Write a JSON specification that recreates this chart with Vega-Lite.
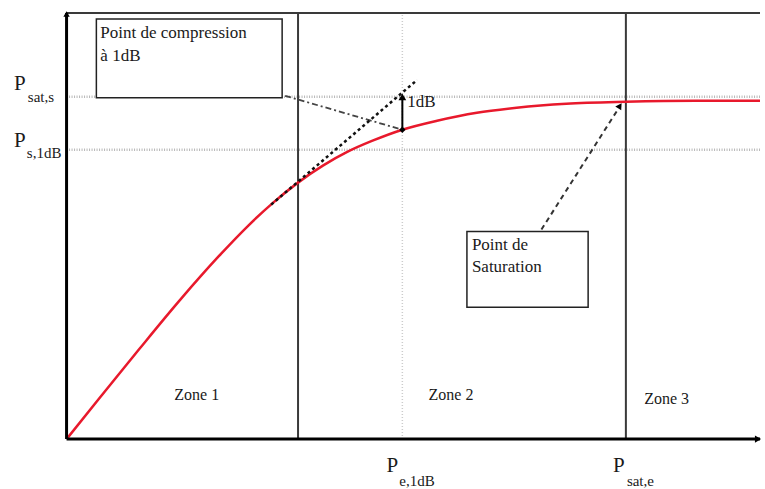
{
  "$schema": "https://vega.github.io/schema/vega-lite/v6.json",
  "width": 765,
  "height": 489,
  "padding": 0,
  "autosize": {"type": "fit", "contains": "padding"},
  "background": "white",
  "config": {"view": {"stroke": null}},
  "datasets": {
    "curve": [
      {"pin": 0, "pout": 0}, {"pin": 33, "pout": 41}, {"pin": 73, "pout": 90}, {"pin": 113, "pout": 138},
      {"pin": 153, "pout": 183}, {"pin": 183, "pout": 214}, {"pin": 208, "pout": 237}, {"pin": 233, "pout": 257},
      {"pin": 258, "pout": 274}, {"pin": 283, "pout": 288}, {"pin": 308, "pout": 299}, {"pin": 338, "pout": 310},
      {"pin": 373, "pout": 319}, {"pin": 413, "pout": 327}, {"pin": 453, "pout": 332}, {"pin": 503, "pout": 336},
      {"pin": 563, "pout": 338}, {"pin": 633, "pout": 339}, {"pin": 698, "pout": 339}
    ],
    "axes": [
      {"x": 0, "y": 0, "x2": 0, "y2": 427},
      {"x": 0, "y": 0, "x2": 698, "y2": 0}
    ],
    "frame": [
      {"x": 0, "y": 427, "x2": 698, "y2": 427},
      {"x": 233, "y": 0, "x2": 233, "y2": 427},
      {"x": 563, "y": 0, "x2": 563, "y2": 427}
    ],
    "grid": [
      {"x": 0, "y": 343, "x2": 698, "y2": 343},
      {"x": 0, "y": 290, "x2": 698, "y2": 290}
    ],
    "vgrid": [
      {"x": 338, "y": 0, "x2": 338, "y2": 427}
    ],
    "tangent": [
      {"x": 206, "y": 235, "x2": 353, "y2": 360}
    ],
    "leader": [
      {"x": 220, "y": 344, "x2": 338, "y2": 310}
    ],
    "satarrow": [
      {"x": 478, "y": 210, "x2": 556, "y2": 332}
    ],
    "dbarrow": [
      {"x": 338, "y": 310, "x2": 338, "y2": 342}
    ],
    "boxes": [
      {"x": 30, "y": 421, "x2": 217, "y2": 342},
      {"x": 403, "y": 208, "x2": 525, "y2": 132}
    ],
    "heads": [
      {"x": 338, "y": 343, "ang": 0, "sz": 60},
      {"x": 557, "y": 334, "ang": 33, "sz": 50},
      {"x": 0, "y": 426, "ang": 0, "sz": 40},
      {"x": 696, "y": 0, "ang": 90, "sz": 50}
    ],
    "dots": [
      {"x": 338, "y": 310}
    ],
    "boxtext": [
      {"x": 34, "y": 402, "t": "Point de compression"},
      {"x": 34, "y": 379, "t": "à 1dB"},
      {"x": 408, "y": 189, "t": "Point de"},
      {"x": 408, "y": 167, "t": "Saturation"},
      {"x": 343, "y": 333, "t": "1dB"}
    ],
    "zones": [
      {"x": 131, "y": 39, "t": "Zone 1"},
      {"x": 387, "y": 39, "t": "Zone 2"},
      {"x": 604, "y": 35, "t": "Zone 3"}
    ],
    "pmain": [
      {"x": -53, "y": 350, "t": "P"},
      {"x": -53, "y": 293, "t": "P"},
      {"x": 322, "y": -33, "t": "P"},
      {"x": 550, "y": -33, "t": "P"}
    ],
    "psub": [
      {"x": -39, "y": 338, "t": "sat,s"},
      {"x": -40, "y": 282, "t": "s,1dB"},
      {"x": 335, "y": -47, "t": "e,1dB"},
      {"x": 564, "y": -47, "t": "sat,e"}
    ]
  },
  "layer": [
    {
      "data": {"name": "grid"},
      "mark": {"type": "rule", "color": "#b8b8b8", "strokeWidth": 2.5, "strokeDash": [1, 1.5]},
      "encoding": {
        "x": {"field": "x", "type": "quantitative", "scale": {"domain": [-67, 698], "nice": false, "zero": false}, "axis": null},
        "y": {"field": "y", "type": "quantitative", "scale": {"domain": [-49, 440], "nice": false, "zero": false}, "axis": null},
        "x2": {"field": "x2"}, "y2": {"field": "y2"}
      }
    },
    {
      "data": {"name": "vgrid"},
      "mark": {"type": "rule", "color": "#cccccc", "strokeWidth": 1.5, "strokeDash": [1, 2]},
      "encoding": {
        "x": {"field": "x", "type": "quantitative"}, "y": {"field": "y", "type": "quantitative"},
        "x2": {"field": "x2"}, "y2": {"field": "y2"}
      }
    },
    {
      "data": {"name": "frame"},
      "mark": {"type": "rule", "color": "#3a3a3a", "strokeWidth": 2},
      "encoding": {
        "x": {"field": "x", "type": "quantitative"}, "y": {"field": "y", "type": "quantitative"},
        "x2": {"field": "x2"}, "y2": {"field": "y2"}
      }
    },
    {
      "data": {"name": "boxes"},
      "mark": {"type": "rect", "fill": "white", "stroke": "#222222", "strokeWidth": 1.5},
      "encoding": {
        "x": {"field": "x", "type": "quantitative"}, "y": {"field": "y", "type": "quantitative"},
        "x2": {"field": "x2"}, "y2": {"field": "y2"}
      }
    },
    {
      "data": {"name": "leader"},
      "mark": {"type": "rule", "color": "#444444", "strokeWidth": 1.8, "strokeDash": [6, 3, 2, 3]},
      "encoding": {
        "x": {"field": "x", "type": "quantitative"}, "y": {"field": "y", "type": "quantitative"},
        "x2": {"field": "x2"}, "y2": {"field": "y2"}
      }
    },
    {
      "data": {"name": "satarrow"},
      "mark": {"type": "rule", "color": "#333333", "strokeWidth": 2, "strokeDash": [5, 4]},
      "encoding": {
        "x": {"field": "x", "type": "quantitative"}, "y": {"field": "y", "type": "quantitative"},
        "x2": {"field": "x2"}, "y2": {"field": "y2"}
      }
    },
    {
      "data": {"name": "curve"},
      "mark": {"type": "line", "color": "#e8192c", "strokeWidth": 2.5, "interpolate": "monotone"},
      "encoding": {
        "x": {"field": "pin", "type": "quantitative"},
        "y": {"field": "pout", "type": "quantitative"}
      }
    },
    {
      "data": {"name": "tangent"},
      "mark": {"type": "rule", "color": "#111111", "strokeWidth": 2.5, "strokeDash": [3, 3]},
      "encoding": {
        "x": {"field": "x", "type": "quantitative"}, "y": {"field": "y", "type": "quantitative"},
        "x2": {"field": "x2"}, "y2": {"field": "y2"}
      }
    },
    {
      "data": {"name": "dbarrow"},
      "mark": {"type": "rule", "color": "#000000", "strokeWidth": 2},
      "encoding": {
        "x": {"field": "x", "type": "quantitative"}, "y": {"field": "y", "type": "quantitative"},
        "x2": {"field": "x2"}, "y2": {"field": "y2"}
      }
    },
    {
      "data": {"name": "axes"},
      "mark": {"type": "rule", "color": "#000000", "strokeWidth": 3},
      "encoding": {
        "x": {"field": "x", "type": "quantitative"}, "y": {"field": "y", "type": "quantitative"},
        "x2": {"field": "x2"}, "y2": {"field": "y2"}
      }
    },
    {
      "data": {"name": "heads"},
      "mark": {"type": "point", "shape": "triangle-up", "filled": true, "color": "#000000", "opacity": 1},
      "encoding": {
        "x": {"field": "x", "type": "quantitative"}, "y": {"field": "y", "type": "quantitative"},
        "angle": {"field": "ang", "type": "quantitative", "scale": null},
        "size": {"field": "sz", "type": "quantitative", "scale": null}
      }
    },
    {
      "data": {"name": "dots"},
      "mark": {"type": "point", "shape": "diamond", "filled": true, "color": "#000000", "size": 40, "opacity": 1},
      "encoding": {
        "x": {"field": "x", "type": "quantitative"}, "y": {"field": "y", "type": "quantitative"}
      }
    },
    {
      "data": {"name": "boxtext"},
      "mark": {"type": "text", "align": "left", "baseline": "alphabetic", "fontSize": 17, "font": "Liberation Serif", "color": "#1a1a1a"},
      "encoding": {
        "x": {"field": "x", "type": "quantitative"}, "y": {"field": "y", "type": "quantitative"},
        "text": {"field": "t"}
      }
    },
    {
      "data": {"name": "zones"},
      "mark": {"type": "text", "align": "center", "baseline": "alphabetic", "fontSize": 16, "font": "Liberation Serif", "color": "#1a1a1a"},
      "encoding": {
        "x": {"field": "x", "type": "quantitative"}, "y": {"field": "y", "type": "quantitative"},
        "text": {"field": "t"}
      }
    },
    {
      "data": {"name": "pmain"},
      "mark": {"type": "text", "align": "left", "baseline": "alphabetic", "fontSize": 21, "font": "Liberation Serif", "color": "#1a1a1a"},
      "encoding": {
        "x": {"field": "x", "type": "quantitative"}, "y": {"field": "y", "type": "quantitative"},
        "text": {"field": "t"}
      }
    },
    {
      "data": {"name": "psub"},
      "mark": {"type": "text", "align": "left", "baseline": "alphabetic", "fontSize": 15, "font": "Liberation Serif", "color": "#1a1a1a"},
      "encoding": {
        "x": {"field": "x", "type": "quantitative"}, "y": {"field": "y", "type": "quantitative"},
        "text": {"field": "t"}
      }
    }
  ]
}
